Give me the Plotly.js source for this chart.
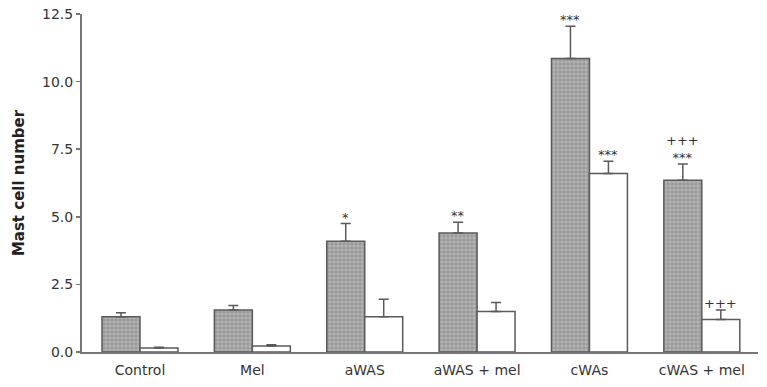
<!DOCTYPE html>
<html><head><meta charset="utf-8">
<script src="https://cdn.plot.ly/plotly-3.0.1.min.js"></script>
<style>html,body{margin:0;padding:0;background:#fff}#chart{width:767px;height:387px}</style>
</head><body><div id="chart"></div>
<script>
var categories = ['Control', 'Mel', 'aWAS', 'aWAS + mel', 'cWAs', 'cWAS + mel'];
var filledValues = [1.3, 1.55, 4.1, 4.4, 10.85, 6.35];
var filledErrors = [0.15, 0.17, 0.65, 0.4, 1.2, 0.6];
var openValues = [0.15, 0.22, 1.3, 1.5, 6.6, 1.2];
var openErrors = [0.03, 0.05, 0.65, 0.33, 0.45, 0.35];
var filledSig = ['', '', '*', '**', '***', '+++<br>***'];
var openSig = ['', '', '', '', '***', '+++'];
var yTicks = [0, 2.5, 5, 7.5, 10, 12.5];
var yTickText = ['0.0', '2.5', '5.0', '7.5', '10.0', '12.5'];

var zeros = categories.map(function(){return 0;});
var traces = [
  {type:'bar', x:categories, y:filledValues, name:'filled',
   marker:{color:'#b2b2b2', line:{color:'#5a5a5a', width:1.5},
     pattern:{shape:'+', fillmode:'replace', bgcolor:'#b4b4b4', fgcolor:'#7c7c7c', size:4, solidity:0.25}},
   error_y:{type:'data', symmetric:false, array:filledErrors, arrayminus:zeros, color:'#5a5a5a', thickness:1.5, width:5}},
  {type:'bar', x:categories, y:openValues, name:'open',
   marker:{color:'#ffffff', line:{color:'#5a5a5a', width:1.5}},
   error_y:{type:'data', symmetric:false, array:openErrors, arrayminus:zeros, color:'#5a5a5a', thickness:1.5, width:5}}
];

var annotations = [];
categories.forEach(function(c, i){
  if (filledSig[i]) annotations.push({x:i-0.169, y:filledValues[i]+filledErrors[i], xref:'x', yref:'y',
    text:filledSig[i], showarrow:false, yanchor:'bottom', yshift:-3, font:{family:'DejaVu Sans', size:13, color:'#333'}});
  if (openSig[i]) annotations.push({x:i+0.169, y:openValues[i]+openErrors[i], xref:'x', yref:'y',
    text:openSig[i], showarrow:false, yanchor:'bottom', yshift:-3, font:{family:'DejaVu Sans', size:13, color:'#333'}});
});

var layout = {
  width:767, height:387,
  margin:{l:82, r:9, t:14, b:35},
  paper_bgcolor:'#fff', plot_bgcolor:'#fff',
  barmode:'group', bargap:0.324, bargroupgap:0,
  showlegend:false,
  font:{family:'DejaVu Sans, Liberation Sans, sans-serif', size:14, color:'#333'},
  xaxis:{type:'category', range:[-0.516, 5.5], showline:true, linecolor:'#777', linewidth:2,
    ticks:'', showgrid:false, zeroline:false, ticklabelstandoff:4, tickfont:{size:14, color:'#333'}},
  yaxis:{range:[0, 12.5], tickvals:yTicks, ticktext:yTickText, showline:true, linecolor:'#777', linewidth:2,
    ticks:'outside', ticklen:4, tickcolor:'#777', tickwidth:1.5, showgrid:false, zeroline:false,
    tickfont:{size:14, color:'#333'},
    title:{text:'<b>Mast cell number</b>', font:{size:15, color:'#222'}, standoff:14}},
  annotations:annotations
};
Plotly.newPlot('chart', traces, layout, {displayModeBar:false, staticPlot:true});
</script></body></html>
